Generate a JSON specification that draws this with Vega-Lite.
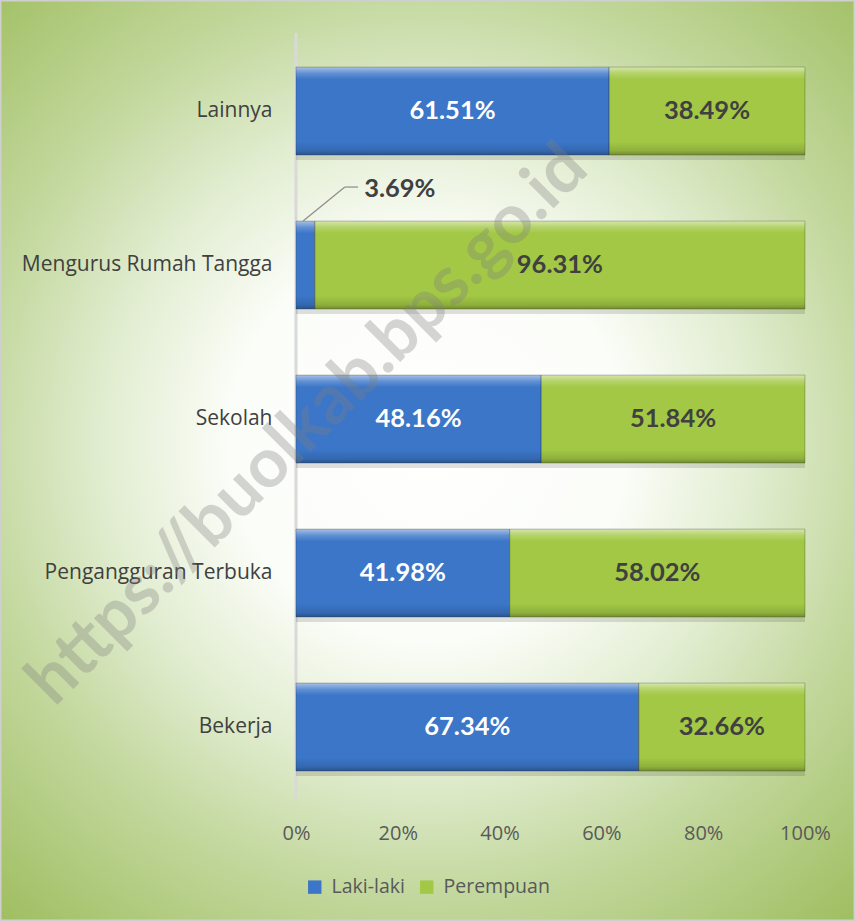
{
  "$schema": "https://vega.github.io/schema/vega-lite/v6.json",
  "width": 855,
  "height": 921,
  "autosize": {"type": "none"},
  "padding": 0,
  "background": "#ffffff",
  "config": {
    "font": "Open Sans",
    "view": {
      "fill": {"gradient": "radial", "x1": 0.5, "y1": 0.48, "r1": 0, "x2": 0.5, "y2": 0.48, "r2": 0.72,
        "stops": [
          {"offset": 0, "color": "#ffffff"},
          {"offset": 0.3, "color": "#fbfdf8"},
          {"offset": 0.5, "color": "#e0ecce"},
          {"offset": 0.68, "color": "#c3d89e"},
          {"offset": 1, "color": "#9bbb59"}
        ]},
      "stroke": "#cfcfcf",
      "strokeWidth": 3
    }
  },
  "data": {
    "values": [
      {"cat": "Lainnya", "series": "Laki-laki", "v": 0.6151},
      {"cat": "Lainnya", "series": "Perempuan", "v": 0.3849},
      {"cat": "Mengurus Rumah Tangga", "series": "Laki-laki", "v": 0.0369},
      {"cat": "Mengurus Rumah Tangga", "series": "Perempuan", "v": 0.9631},
      {"cat": "Sekolah", "series": "Laki-laki", "v": 0.4816},
      {"cat": "Sekolah", "series": "Perempuan", "v": 0.5184},
      {"cat": "Pengangguran Terbuka", "series": "Laki-laki", "v": 0.4198},
      {"cat": "Pengangguran Terbuka", "series": "Perempuan", "v": 0.5802},
      {"cat": "Bekerja", "series": "Laki-laki", "v": 0.6734},
      {"cat": "Bekerja", "series": "Perempuan", "v": 0.3266}
    ]
  },
  "encoding": {
    "y": {
      "field": "cat", "type": "nominal", "title": null,
      "scale": {
        "domain": ["Lainnya", "Mengurus Rumah Tangga", "Sekolah", "Pengangguran Terbuka", "Bekerja"],
        "paddingInner": 0.4286, "paddingOuter": 0.7045, "align": 0.309
      },
      "axis": {
        "orient": "left", "offset": -280, "domain": false, "ticks": false, "tickSize": 0,
        "labelPadding": 8, "labelFont": "Open Sans", "labelFontSize": 21, "labelColor": "#404040",
        "labelLimit": 400, "title": null
      }
    }
  },
  "layer": [
    {
      "data": {"values": [{}]},
      "mark": {"type": "rule", "color": "#d9d9d9", "strokeWidth": 3, "yOffset": -34, "y2Offset": 29},
      "encoding": {
        "x": {"datum": 0, "type": "quantitative"},
        "y": {"datum": "Lainnya", "type": "nominal", "bandPosition": 0, "title": null},
        "y2": {"datum": "Bekerja", "bandPosition": 1}
      }
    },
    {
      "mark": {"type": "bar", "color": "#000000", "opacity": 0.12, "yOffset": 5},
      "encoding": {
        "x": {"field": "v", "type": "quantitative", "stack": "zero"}
      }
    },
    {
      "mark": {"type": "bar"},
      "encoding": {
        "x": {
          "field": "v", "type": "quantitative", "stack": "zero", "title": null,
          "scale": {"domain": [-0.5815, 1.0983], "nice": false, "zero": false},
          "axis": {
            "orient": "bottom", "offset": -98, "values": [0, 0.2, 0.4, 0.6, 0.8, 1], "format": ".0%",
            "domain": false, "ticks": false, "tickSize": 0, "grid": false, "labelPadding": 0,
            "labelBaseline": "top", "labelFont": "Open Sans", "labelFontSize": 20, "labelColor": "#595959",
            "labelFlush": false, "labelOverlap": false
          }
        },
        "color": {
          "field": "series", "type": "nominal",
          "scale": {"domain": ["Laki-laki", "Perempuan"], "range": ["#3b76c8", "#a2c845"]},
          "legend": {
            "orient": "none", "legendX": 305, "legendY": 877, "direction": "horizontal", "title": null,
            "symbolType": "square", "symbolSize": 180, "symbolStrokeWidth": 0, "labelFont": "Open Sans",
            "labelFontSize": 19.5, "labelColor": "#595959", "columnPadding": 12, "labelOffset": 7
          }
        },
        "order": {"field": "series"}
      }
    },
    {
      "mark": {
        "type": "bar",
        "stroke": "#1a1a1a", "strokeOpacity": 0.25, "strokeWidth": 1,
        "color": {"gradient": "linear", "x1": 0, "y1": 0, "x2": 0, "y2": 1,
          "stops": [
            {"offset": 0, "color": "rgba(255,255,255,0.55)"},
            {"offset": 0.07, "color": "rgba(255,255,255,0.2)"},
            {"offset": 0.14, "color": "rgba(255,255,255,0)"},
            {"offset": 0.85, "color": "rgba(0,0,0,0)"},
            {"offset": 0.95, "color": "rgba(0,0,0,0.12)"},
            {"offset": 1, "color": "rgba(0,0,0,0.3)"}
          ]}
      },
      "encoding": {
        "x": {"field": "v", "type": "quantitative", "stack": "zero"},
        "order": {"field": "series"}
      }
    },
    {
      "mark": {"type": "text", "font": "Lato", "fontWeight": "bold", "fontSize": 25.5, "baseline": "middle", "align": "center"},
      "encoding": {
        "x": {"field": "v", "type": "quantitative", "stack": "zero", "bandPosition": 0.5},
        "order": {"field": "series"},
        "text": {"condition": {"test": "datum.v < 0.1", "value": ""}, "field": "v", "type": "quantitative", "format": ".2%"},
        "color": {"condition": {"test": "datum.series === 'Laki-laki'", "value": "#ffffff"}, "value": "#404040"}
      }
    },
    {
      "data": {"values": [{}]},
      "mark": {"type": "rule", "color": "#8c8c8c", "strokeWidth": 1.2, "y2Offset": -34},
      "encoding": {
        "x": {"datum": 0.014, "type": "quantitative"},
        "x2": {"datum": 0.096},
        "y": {"datum": "Mengurus Rumah Tangga", "type": "nominal", "bandPosition": 0, "title": null},
        "y2": {"datum": "Mengurus Rumah Tangga", "bandPosition": 0}
      }
    },
    {
      "data": {"values": [{}]},
      "mark": {"type": "rule", "color": "#8c8c8c", "strokeWidth": 1.2, "yOffset": -34},
      "encoding": {
        "x": {"datum": 0.096, "type": "quantitative"},
        "x2": {"datum": 0.122},
        "y": {"datum": "Mengurus Rumah Tangga", "type": "nominal", "bandPosition": 0, "title": null}
      }
    },
    {
      "transform": [{"filter": "datum.v < 0.1"}],
      "mark": {"type": "text", "font": "Lato", "fontWeight": "bold", "fontSize": 25.5, "baseline": "middle", "align": "left", "color": "#404040", "dy": -32},
      "encoding": {
        "x": {"datum": 0.134, "type": "quantitative"},
        "y": {"field": "cat", "type": "nominal", "bandPosition": 0},
        "text": {"field": "v", "type": "quantitative", "format": ".2%"}
      }
    },
    {
      "data": {"values": [{"wm": "https://buolkab.bps.go.id"}]},
      "mark": {"type": "text", "font": "Lato", "fontWeight": "bold", "fontSize": 69, "angle": 315, "align": "center", "baseline": "middle", "color": "#7f7f7f", "opacity": 0.32, "dy": 8},
      "encoding": {
        "x": {"datum": 0.012, "type": "quantitative"},
        "y": {"datum": "Sekolah", "type": "nominal", "title": null},
        "text": {"field": "wm", "type": "nominal"}
      }
    }
  ]
}
